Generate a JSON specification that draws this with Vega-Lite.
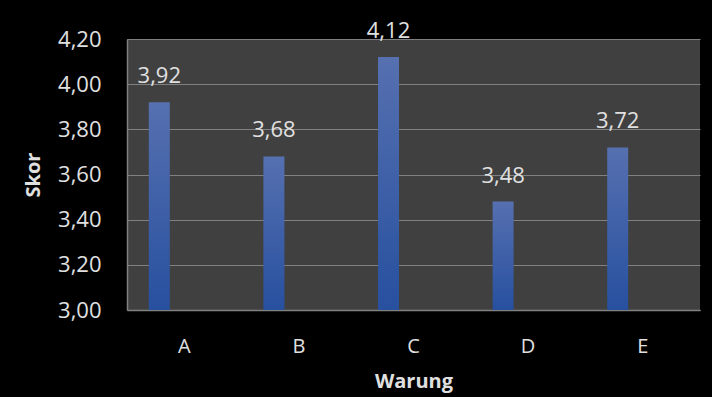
{
  "$schema": "https://vega.github.io/schema/vega-lite/v6.json",
  "autosize": "none",
  "padding": {"left": 127, "top": 39, "right": 12, "bottom": 87},
  "width": 573,
  "height": 271,
  "background": "#000000",
  "config": {
    "font": "Open Sans",
    "locale": {
      "number": {"decimal": ",", "thousands": ".", "grouping": [3], "currency": ["", " €"]}
    },
    "view": {"fill": "#404040", "stroke": null},
    "axis": {
      "labelColor": "#e0e0e0",
      "titleColor": "#e0e0e0",
      "labelFont": "Open Sans",
      "titleFont": "Open Sans",
      "domainColor": "#808080",
      "domainWidth": 1.5,
      "gridColor": "#808080",
      "gridWidth": 1.2,
      "ticks": false
    }
  },
  "data": {
    "values": [
      {"Warung": "A", "Skor": 3.92},
      {"Warung": "B", "Skor": 3.68},
      {"Warung": "C", "Skor": 4.12},
      {"Warung": "D", "Skor": 3.48},
      {"Warung": "E", "Skor": 3.72}
    ]
  },
  "encoding": {
    "x": {
      "field": "Warung",
      "type": "nominal",
      "scale": {"paddingInner": 0, "paddingOuter": 0},
      "axis": {
        "labelAngle": 0,
        "labelFontSize": 20,
        "labelPadding": 26,
        "title": "Warung",
        "titleFontSize": 20,
        "titleFontWeight": "bold",
        "titlePadding": 15,
        "grid": false
      }
    },
    "y": {
      "field": "Skor",
      "type": "quantitative",
      "scale": {"domain": [3, 4.2], "nice": false, "zero": false},
      "axis": {
        "values": [3, 3.2, 3.4, 3.6, 3.8, 4.0, 4.2],
        "format": ".2f",
        "labelFontSize": 22,
        "labelPadding": 26,
        "title": "Skor",
        "titleFontSize": 20,
        "titleFontWeight": "bold",
        "titlePadding": 14,
        "grid": true
      }
    }
  },
  "layer": [
    {
      "mark": {
        "type": "bar",
        "width": 21,
        "xOffset": -25,
        "color": {
          "gradient": "linear",
          "x1": 0, "y1": 0, "x2": 0, "y2": 1,
          "stops": [
            {"offset": 0, "color": "#5670b0"},
            {"offset": 1, "color": "#27509f"}
          ]
        }
      },
      "encoding": {
        "y2": {"datum": 3}
      }
    },
    {
      "mark": {
        "type": "text",
        "xOffset": -25,
        "dy": -19,
        "baseline": "alphabetic",
        "fontSize": 22,
        "color": "#e0e0e0",
        "font": "Open Sans"
      },
      "encoding": {
        "text": {"field": "Skor", "type": "quantitative", "format": ".2f"}
      }
    }
  ]
}
